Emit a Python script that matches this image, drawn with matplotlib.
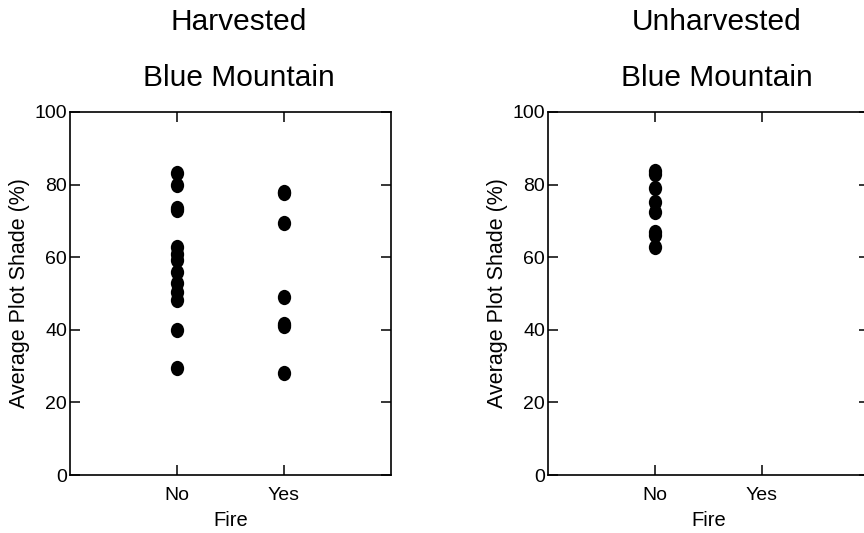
import numpy as np
import matplotlib
matplotlib.use("Agg")
import matplotlib.pyplot as plt
from matplotlib.path import Path
from matplotlib.transforms import Affine2D

plt.rcParams['font.family'] = ['Liberation Sans', 'DejaVu Sans']

categories = ["No", "Yes"]
panel_titles = ["Harvested", "Unharvested"]
site = "Blue Mountain"

# harvested plots, shade (%) by fire
harv_no = [83.1, 79.9, 73.5, 73.0, 62.7, 61.0, 59.2, 56.0, 52.8, 50.5, 48.2, 39.9, 29.4]
harv_yes = [78.0, 77.6, 69.5, 49.1, 41.6, 41.0, 28.0]
# unharvested plots (only unburned)
unharv_no = [83.8, 83.0, 79.0, 75.3, 72.5, 67.0, 66.0, 62.9]
unharv_yes = []

panels = [(harv_no, harv_yes), (unharv_no, unharv_yes)]

# slightly tall dot, like the original
dot = Path.unit_circle().transformed(Affine2D().scale(0.87, 1.0))

fig = plt.figure(figsize=(8.64, 5.33), dpi=100)
W, H = 864, 533
lefts = [70, 548]
aw, top, bot = 321, 112, 475

for i, (no_vals, yes_vals) in enumerate(panels):
    ax = fig.add_axes([lefts[i] / W, 1 - bot / H, aw / W, (bot - top) / H])
    ax.plot(np.full(len(no_vals), 1), no_vals, ls='none', marker=dot, color='black', ms=11, mew=0)
    if len(yes_vals):
        ax.plot(np.full(len(yes_vals), 2), yes_vals, ls='none', marker=dot, color='black', ms=11, mew=0)
    ax.set_xlim(0, 3)
    ax.set_ylim(0, 100)
    ax.set_xticks([1, 2])
    ax.set_xticklabels(categories)
    ax.set_yticks(np.arange(0, 101, 20))
    ax.tick_params(axis='both', direction='in', length=7.5, width=1.1,
                   top=True, right=True, labelsize=14, colors='black')
    ax.tick_params(axis='x', pad=9)
    ax.tick_params(axis='y', pad=2)
    for s in ax.spines.values():
        s.set_linewidth(1.2)
    ax.set_xlabel("Fire", fontsize=14.5, labelpad=5)
    ax.set_ylabel("Average Plot Shade (%)", fontsize=15.5, labelpad=3)
    cx = (lefts[i] + aw / 2 + 8) / W
    fig.text(cx, 1 - 22 / H, panel_titles[i], fontsize=21.5, ha='center', va='center')
    fig.text(cx, 1 - 78 / H, site, fontsize=21.5, ha='center', va='center')

plt.savefig('out.png', dpi=100)
